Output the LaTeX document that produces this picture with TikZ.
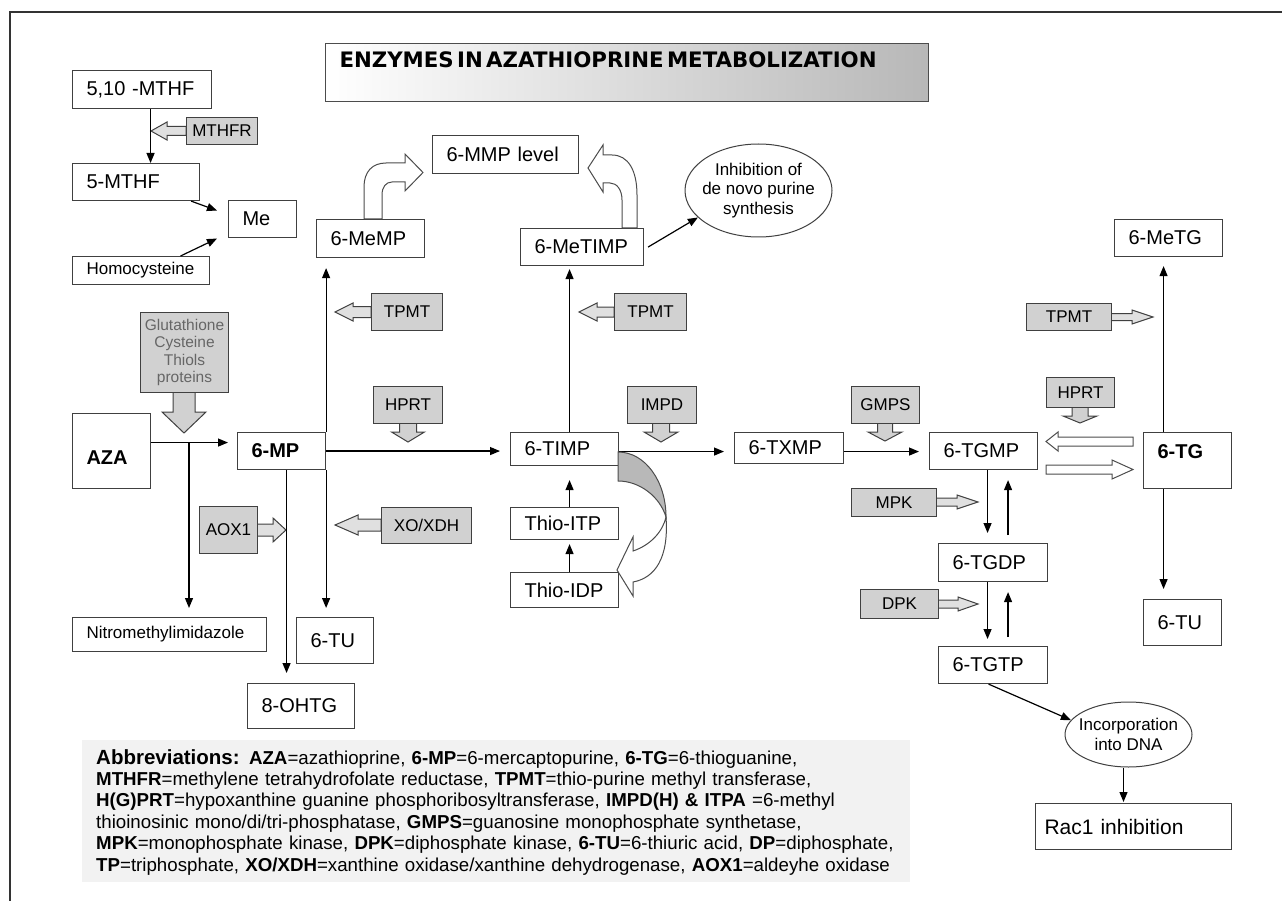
\documentclass[tikz,border=0pt]{standalone}
\usepackage{fontspec}
\setmainfont{Liberation Sans}
\newfontfamily\titlefont{DejaVu Sans}
\usetikzlibrary{arrows.meta,shapes.geometric}

\tikzset{
  box/.style 2 args={draw=black!75, line width=1.1pt, fill=white, anchor=north west,
    minimum width=#1, minimum height=#2, text width=#1-28, inner xsep=14pt, inner ysep=0pt,
    align=left, font=\fontsize{20}{22}\selectfont},
  enz/.style 2 args={draw=black!75, line width=1pt, fill=black!18, anchor=north west,
    minimum width=#1, minimum height=#2, inner sep=0pt, font=\fontsize{17}{19}\selectfont},
  enzarr/.style={draw=black!75, line width=1pt, fill=black!12},
  enzdown/.style={draw=black!75, line width=1pt, fill=black!18},
  hollow/.style={draw=black!70, line width=1pt, fill=white},
  oval/.style={ellipse, draw=black!75, line width=1pt, fill=white, inner ysep=0pt,
    align=center, font=\fontsize{17}{19.5}\selectfont},
  arr/.style={-{Triangle[length=10pt,width=8pt]}, line width=1.2pt, shorten >=10pt},
}

\begin{document}
\begin{tikzpicture}[x=1pt, y=-1pt]
    \useasboundingbox (0,0) rectangle (1282,901);

    % frame
    \draw[line width=1.2pt, black!80] (10,901) -- (10,12) -- (1282,12);

    % title
    \node[draw=black!70, line width=1pt, left color=white, middle color=black!7, right color=black!28,
      anchor=north west, minimum width=603, minimum height=58, text width=575pt, inner xsep=14pt,
      inner ysep=10pt, text height=14pt, text depth=24pt, align=left] (title) at (325,43)
      {\titlefont\bfseries\fontsize{21.3}{23}\selectfont ENZYMES IN AZATHIOPRINE METABOLIZATION};

    % enzyme arrows (left / right)
    \foreach \tx/\ty/\bx/\hx/\hh/\sh in {151/131/186/167/9/4.5, 335/312/371/353/9/5.5,
        579/312/614/597/9/5, 1153/317/1111/1132/7/3.5, 978/502/936/957/7/4,
        978/604/938/958/7/4, 286/530/257/273/12/6, 335/525/381/358/10/6} {
        \draw[enzarr] (\bx,\ty-\sh) -- (\hx,\ty-\sh) -- (\hx,\ty-\hh) -- (\tx,\ty)
            -- (\hx,\ty+\hh) -- (\hx,\ty+\sh) -- (\bx,\ty+\sh) -- cycle;
    }
    % enzyme arrows (down)
    \foreach \ax/\tipy/\by/\hy/\hh/\sh in {408/442/423/432/16.5/8.5, 661/442/423/432/17/8.5,
        885/441/423/432/17/7.5, 1080/423/407/416/17/8, 184/433/392/412/22/11} {
        \draw[enzdown] (\ax-\sh,\by) -- (\ax-\sh,\hy) -- (\ax-\hh,\hy) -- (\ax,\tipy)
            -- (\ax+\hh,\hy) -- (\ax+\sh,\hy) -- (\ax+\sh,\by) -- cycle;
    }

    % enzymes
    \node[enz={71}{27}] (mthfr) at (186,117) {MTHFR};
    \node[enz={71}{37}] (tpmta) at (371,293) {TPMT};
    \node[enz={72}{37}] (tpmtb) at (614,293) {TPMT};
    \node[enz={85}{27}] (tpmtc) at (1026,303) {TPMT};
    \node[enz={69}{37}] (hprta) at (373,386) {HPRT};
    \node[enz={69}{37}] (impd) at (627,386) {IMPD};
    \node[enz={68}{37}] (gmps) at (851,386) {GMPS};
    \node[enz={68}{30}] (hprtb) at (1046,377) {HPRT};
    \node[enz={85}{28}] (mpk) at (851,488) {MPK};
    \node[enz={78}{29}] (dpk) at (860,589) {DPK};
    \node[enz={58}{47}] (aox) at (199,506) {AOX1};
    \node[enz={90}{36}] (xo) at (381,507) {XO/XDH};
    \node[enz={88}{80}, align=center, text=black!60, font=\fontsize{15.5}{17.5}\selectfont]
        (glut) at (140,312) {Glutathione\\Cysteine\\Thiols\\proteins};

    % metabolites
    \node[box={139}{38}] (mthften) at (72,70) {5,10 -MTHF};
    \node[box={127}{37}] (mthffive) at (72,163) {5-MTHF};
    \node[box={68}{37}] (me) at (228,200) {Me};
    \node[box={137}{28}, font=\fontsize{17}{19}\selectfont] (homocys) at (72,256) {Homocysteine};
    \node[box={108}{38}] (memp) at (316,219) {6-MeMP};
    \node[box={146}{38}] (mmp) at (432,135) {6-MMP level};
    \node[box={123}{37}] (metimp) at (520,228) {6-MeTIMP};
    \node[box={108}{37}] (metg) at (1114,219) {6-MeTG};
    \node[box={78}{75}, text height=51pt, text depth=24pt] (aza) at (72,413) {\textbf{AZA}};
    \node[box={88}{37}] (mp) at (237,432) {\textbf{6-MP}};
    \node[box={108}{33}] (timp) at (510,432) {6-TIMP};
    \node[box={109}{31}] (txmp) at (734,432) {6-TXMP};
    \node[box={108}{37}] (tgmp) at (929,432) {6-TGMP};
    \node[box={88}{56}, text height=26pt, text depth=30pt] (tg) at (1143,432) {\textbf{6-TG}};
    \node[box={108}{32}] (thioitp) at (510,507) {Thio-ITP};
    \node[box={108}{35}] (thioidp) at (510,572) {Thio-IDP};
    \node[box={194}{34}, font=\fontsize{17}{19}\selectfont] (nitro) at (72,617) {Nitromethylimidazole};
    \node[box={77}{46}] (tuleft) at (296,617) {6-TU};
    \node[box={107}{45}] (ohtg) at (247,683) {8-OHTG};
    \node[box={109}{38}] (tgdp) at (938,543) {6-TGDP};
    \node[box={109}{37}] (tgtp) at (938,646) {6-TGTP};
    \node[box={78}{46}] (turight) at (1143,599) {6-TU};
    \node[box={196}{46}, inner xsep=9pt, text width=178pt, font=\fontsize{21}{23}\selectfont]
        (rac) at (1035,803) {Rac1 inhibition};
    \node[oval, minimum width=147, minimum height=93, inner xsep=-6pt] (inhib) at (758.5,190.5)
        {Inhibition of\\de novo purine\\synthesis};
    \node[oval, minimum width=127, minimum height=65, inner xsep=-5pt] (dna) at (1128.5,734.5)
        {Incorporation\\into DNA};

    % connectors
    \draw[arr, shorten >=0pt] ([xshift=8.5pt]mthften.south) -- ([xshift=8.5pt]mthften.south |- mthffive.north);
    \draw[arr, shorten >=0pt] ([xshift=-9pt]mthffive.south east) -- ([xshift=-11pt,yshift=8.5pt]me.west);
    \draw[arr, shorten >=0pt] ([xshift=39.5pt]homocys.north) -- ([xshift=-11pt,yshift=-19.5pt]me.west);
    \coordinate (fork) at (189,442);
    \draw[arr, shorten >=9pt] ([yshift=8.5pt]aza.east) -- ([yshift=8.5pt]mp.west);
    \draw[arr, shorten >=9pt] (fork) -- (fork |- nitro.north);
    \draw[arr] (mp.north east) -- (mp.north east |- memp.south);
    \draw[arr, shorten >=9pt] (mp.south east) -- (mp.south east |- tuleft.north);
    \draw[arr] ([xshift=5pt]mp.south) -- ([xshift=5pt]mp.south |- ohtg.north);
    \draw[arr] (mp.east) -- (mp.east -| timp.west);
    \draw[arr, shorten >=3pt] ([xshift=5pt]timp.north) -- ([xshift=5pt]timp.north |- metimp.south);
    \draw[arr, shorten >=14pt] ([xshift=5pt]thioitp.north) -- ([xshift=5pt]timp.south);
    \draw[arr, shorten >=4pt] ([xshift=5pt]thioidp.north) -- ([xshift=5pt]thioitp.south);
    \draw[arr, shorten >=0pt] ([xshift=4pt]metimp.east) -- (inhib.204);
    \draw[arr] ([yshift=-2.5pt]timp.east) -- ([yshift=-2.5pt]timp.east -| txmp.west);
    \draw[arr] ([yshift=-3.5pt]txmp.east) -- ([yshift=-3.5pt]txmp.east -| tgmp.west);
    \draw[arr] ([xshift=4pt]tgmp.south) -- ([xshift=4pt]tgmp.south |- tgdp.north);
    \draw[arr, shorten <=8pt] ([xshift=15pt]tgdp.north) -- ([xshift=15pt]tgdp.north |- tgmp.south);
    \draw[arr, shorten >=7pt] ([xshift=-5.5pt]tgdp.south) -- ([xshift=-5.5pt]tgdp.south |- tgtp.north);
    \draw[arr, shorten <=9pt] ([xshift=15pt]tgtp.north) -- ([xshift=15pt]tgtp.north |- tgdp.south);
    \draw[arr, shorten >=9pt] ([xshift=-24pt]tg.north) -- ([xshift=-24pt]tg.north |- metg.south);
    \draw[arr] ([xshift=-24pt]tg.south) -- ([xshift=-24pt]tg.south |- turight.north);
    \draw[arr, shorten >=0pt] ([xshift=-4.5pt]tgtp.south) -- (dna.166);
    \draw[arr, shorten >=1pt] ([xshift=-5pt]dna.south) -- ([xshift=-5pt]dna.south |- rac.north);

    % 6-TG <-> 6-TGMP
    \draw[hollow] (1133,437) -- (1058,437) -- (1058,432) -- (1046,441.5) -- (1058,451)
        -- (1058,446) -- (1133,446) -- cycle;
    \draw[hollow] (1046,465) -- (1112,465) -- (1112,460) -- (1133,469.5) -- (1112,479)
        -- (1112,474) -- (1046,474) -- cycle;

    % curved arrows to 6-MMP level
    \draw[hollow] (364,219) -- (364,187) .. controls (364,172) and (372,163) .. (386,163)
        -- (405,163) -- (405,154) -- (423,172.5) -- (405,191) -- (405,182) -- (392,182)
        .. controls (386,182) and (382,187) .. (382,195) -- (382,219) -- cycle;
    \draw[hollow] (637,228) -- (637,195) .. controls (637,170) and (628,155) .. (612,155)
        -- (603,155) -- (603,145) -- (588,168) -- (603,192) -- (603,183) -- (610,183)
        .. controls (617,183) and (622,190) .. (622,200) -- (622,228) -- cycle;

    % 6-TIMP -> Thio-IDP
    \draw[draw=black!70, line width=1pt, fill=black!28] (618,452) .. controls (645,452) and (666,481) .. (666,517)
        .. controls (660,497) and (640,481) .. (618,481) -- cycle;
    \draw[hollow] (666,517) .. controls (663,531) and (651,545) .. (633,551) -- (633,537) -- (617,570)
        -- (633,596) -- (633,582) .. controls (655,578) and (669,558) .. (666,517) -- cycle;

    % abbreviations
    \fill[black!5] (82,740) rectangle (910,882);
    \node[anchor=north west, text width=830pt, inner sep=0pt, align=left,
      font=\fontsize{18.7}{21.4}\selectfont] (abbrev) at (96,749)
      {\textbf{\fontsize{20.5}{21.4}\selectfont Abbreviations:} \textbf{AZA}=azathioprine, \textbf{6-MP}=6-mercaptopurine, \textbf{6-TG}=6-thioguanine,\\
       \textbf{MTHFR}=methylene tetrahydrofolate reductase, \textbf{TPMT}=thio-purine methyl transferase,\\
       \textbf{H(G)PRT}=hypoxanthine guanine phosphoribosyltransferase, \textbf{IMPD(H) \& ITPA} =6-methyl\\
       thioinosinic mono/di/tri-phosphatase, \textbf{GMPS}=guanosine monophosphate synthetase,\\
       \textbf{MPK}=monophosphate kinase, \textbf{DPK}=diphosphate kinase, \textbf{6-TU}=6-thiuric acid, \textbf{DP}=diphosphate,\\
       \textbf{TP}=triphosphate, \textbf{XO/XDH}=xanthine oxidase/xanthine dehydrogenase, \textbf{AOX1}=aldeyhe oxidase};
\end{tikzpicture}
\end{document}
